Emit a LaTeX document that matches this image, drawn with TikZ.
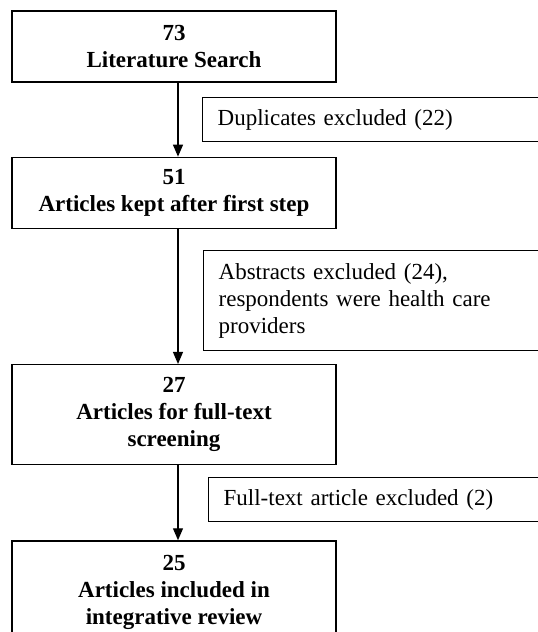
\documentclass[tikz,border=0pt]{standalone}
\usepackage{fontspec}
\setmainfont{Liberation Serif}
\usepackage{tikz}
\usetikzlibrary{positioning,arrows.meta}

\begin{document}
\begin{tikzpicture}[x=1pt,y=-1pt,node distance=74pt,
  stage/.style={draw,rectangle,line width=1.3pt,minimum width=324pt,minimum height=71pt,
    align=center,font=\fontsize{23}{27}\selectfont\bfseries,inner sep=2pt},
  note/.style={draw,rectangle,line width=1.3pt,anchor=north west,text width=315pt,
    inner xsep=15pt,inner ysep=2pt,minimum height=44pt,align=left,
    font=\fontsize{23}{27}\selectfont},
  flow/.style={-{Triangle[length=12pt,width=10pt]},line width=1.2pt}]
\useasboundingbox (0,0) rectangle (538,632);
\clip (0,0) rectangle (538,632);
\node[stage] (q_0) at (174,46.5) {73\\Literature Search};
\node[stage] (q_1) [below = of q_0] {51\\Articles kept after first step};
\node[stage,minimum height=100pt] (q_2) [below = 135pt of q_1] {27\\Articles for full-text\\screening};
\node[stage,minimum height=104pt] (q_3) [below = 75pt of q_2] {25\\Articles included in\\integrative review};
\node[note] (e_0) at (202,97) {Duplicates excluded (22)};
\node[note,minimum height=100pt] (e_1) at (203,250) {Abstracts excluded (24),\\respondents were health care\\providers};
\node[note] (e_2) at (208,477) {Full-text article excluded (2)};
\path[flow]
  ([xshift=4pt]q_0.south) edge ([xshift=4pt]q_1.north)
  ([xshift=4pt]q_1.south) edge ([xshift=4pt]q_2.north)
  ([xshift=4pt]q_2.south) edge ([xshift=4pt]q_3.north)
  ;
\end{tikzpicture}
\end{document}
